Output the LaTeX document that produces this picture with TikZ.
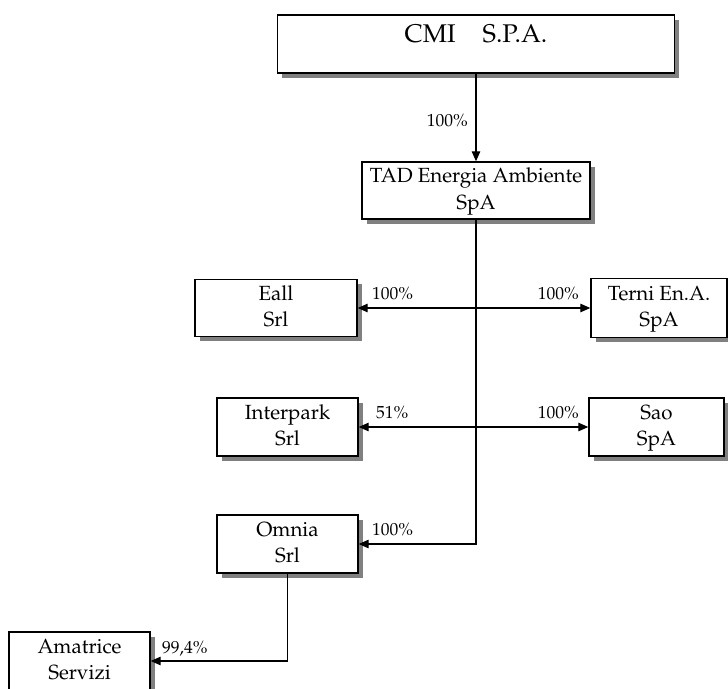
\documentclass[tikz,border=0pt]{standalone}
\usepackage[T1]{fontenc}
\usepackage{mathpazo}
\usetikzlibrary{arrows.meta,shadows}
\tikzset{
  box/.style={draw, line width=1.4pt, fill=white, inner sep=0pt, align=center,
    font=\fontsize{20.5}{26.5}\selectfont,
    drop shadow={shadow xshift=4.5pt, shadow yshift=-4.5pt, fill=black!50, opacity=1}},
  conn/.style={line width=1.3pt, -{Triangle[length=10pt,width=8.5pt]}},
  biconn/.style={line width=1.3pt, {Triangle[length=10pt,width=8.5pt]}-{Triangle[length=10pt,width=8.5pt]}},
  pct/.style={inner sep=0pt, anchor=base west, font=\fontsize{17.5}{20}\selectfont},
  pctr/.style={pct, anchor=base east},
}
\newcommand\twolines[2]{\strut#1\\\strut#2}
\begin{document}
\begin{tikzpicture}[x=1pt,y=-1pt]
\useasboundingbox (0,0) rectangle (728,688);
% boxes
\node[box, minimum width=397pt, minimum height=58pt,
      font=\fontsize{25.6}{30}\selectfont, text height=18pt, text depth=22pt]
      (cmi) at (476,44) {CMI\hspace{27pt}S.P.A.};
\node[box, minimum width=228pt, minimum height=57pt] (tad) at (476,190.5)
      {\twolines{TAD Energia Ambiente}{SpA}};
\node[box, minimum width=162pt, minimum height=57pt] (eall) at (276,308)
      {\twolines{Eall}{Srl}};
\node[box, minimum width=136pt, minimum height=59pt] (terni) at (659,308)
      {\twolines{Terni En.A.}{SpA}};
\node[box, minimum width=141pt, minimum height=58pt] (interpark) at (287.5,427)
      {\twolines{Interpark}{Srl}};
\node[box, minimum width=135pt, minimum height=58pt] (sao) at (656.5,427)
      {\twolines{Sao}{SpA}};
\node[box, minimum width=141pt, minimum height=58pt] (omnia) at (287.5,544)
      {\twolines{Omnia}{Srl}};
\node[box, minimum width=141pt, minimum height=58pt] (amatrice) at (79.5,661)
      {\twolines{Amatrice}{Servizi}};
% connectors
\draw[conn] (cmi) -- (tad);
\draw[conn] (tad.south) |- (omnia.east);
\draw[biconn] (eall.east) -- (terni.west);
\draw[biconn] (interpark.east) -- (sao.west);
\draw[conn] (omnia.south) |- (amatrice.east);
% percentages
\node[pctr] (p1) at (468,126) {100\%};
\node[pct] (p2) at (372,299) {100\%};
\node[pctr] (p3) at (579,299) {100\%};
\node[pct] (p4) at (376,418) {51\%};
\node[pctr] (p5) at (579,418) {100\%};
\node[pct] (p6) at (372,535) {100\%};
\node[pct] (p7) at (162,653) {99,4\%};
\end{tikzpicture}
\end{document}
